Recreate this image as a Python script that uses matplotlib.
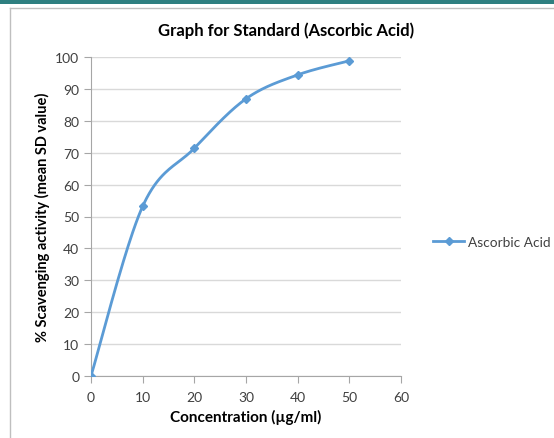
import numpy as np
import matplotlib
matplotlib.use("Agg")
import matplotlib.pyplot as plt
from matplotlib.patches import Rectangle
from matplotlib.lines import Line2D

plt.rcParams['font.family'] = ['Lato', 'DejaVu Sans']

concentration = [0, 10, 20, 30, 40, 50]
scavenging = [0, 53.2, 71.4, 86.9, 94.4, 98.8]
x_ticks = [0, 10, 20, 30, 40, 50, 60]
y_ticks = [0, 10, 20, 30, 40, 50, 60, 70, 80, 90, 100]
series_name = "Ascorbic Acid"
title = "Graph for Standard (Ascorbic Acid)"
xlabel = "Concentration (µg/ml)"
ylabel = "% Scavenging activity (mean SD value)"

line_color = "#5b9bd5"
grid_color = "#d9d9d9"
text_color = "#404040"

def smooth_curve(xs, ys, n=40):
    # Excel-style cubic Bezier smoothing through the data points
    P = np.column_stack([xs, ys]).astype(float)
    out = []
    for i in range(len(P) - 1):
        p0 = P[i - 1] if i > 0 else P[i]
        p1 = P[i]
        p2 = P[i + 1]
        p3 = P[i + 2] if i + 2 < len(P) else P[i + 1]
        c1 = p1 + (p2 - p0) / 6.0
        c2 = p2 - (p3 - p1) / 6.0
        t = np.linspace(0, 1, n)[:, None]
        seg = ((1 - t) ** 3) * p1 + 3 * ((1 - t) ** 2) * t * c1 + 3 * (1 - t) * t ** 2 * c2 + t ** 3 * p2
        out.append(seg if i == 0 else seg[1:])
    seg = np.vstack(out)
    return seg[:, 0], seg[:, 1]

fig = plt.figure(figsize=(5.54, 4.39), dpi=100)

# slide decoration: teal bar on top and chart frame
fig.patches.append(Rectangle((0.0, 1 - 5 / 439), 1.0, 5 / 439, transform=fig.transFigure,
                             facecolor="#2e7f80", edgecolor="none"))
fig.add_artist(Line2D([10 / 554, 10 / 554], [0, 1 - 9 / 439], transform=fig.transFigure,
                      color="#bfbfbf", lw=1.0))
fig.add_artist(Line2D([10 / 554, 1], [1 - 9 / 439, 1 - 9 / 439], transform=fig.transFigure,
                      color="#bfbfbf", lw=1.0))

ax = fig.add_axes([91 / 554, 1 - 377 / 439, 310 / 554, 319 / 439])

sx, sy = smooth_curve(concentration, scavenging)
ax.plot(sx, sy, color=line_color, lw=2.0, zorder=3)
ax.plot(concentration, scavenging, linestyle="none", marker="D", markersize=4.5,
        color=line_color, zorder=4)

ax.set_xlim(0, 60)
ax.set_ylim(0, 100)
ax.set_xticks(x_ticks)
ax.set_yticks(y_ticks)
ax.grid(axis="y", color=grid_color, lw=1.0)
ax.set_axisbelow(True)
for s in ["top", "right"]:
    ax.spines[s].set_visible(False)
for s in ["left", "bottom"]:
    ax.spines[s].set_color("#a6a6a6")
ax.tick_params(axis="both", colors="#a6a6a6", labelcolor=text_color, labelsize=10,
               length=5, direction="out")
ax.tick_params(axis="x", pad=6)

ax.set_xlabel(xlabel, fontsize=11, fontweight="bold", color="black", labelpad=4)
ax.set_ylabel(ylabel, fontsize=10.5, fontweight="bold", color="black", labelpad=4)
fig.text(286 / 554, 1 - 31 / 439, title, ha="center", va="center", fontsize=12,
         fontweight="bold", color="black")

handle = Line2D([], [], color=line_color, lw=2.0, marker="D", markersize=4.5)
fig.legend([handle], [series_name], loc="center left", bbox_to_anchor=(429 / 554, 1 - 243 / 439),
           frameon=False, fontsize=9.8, handlelength=2.3, handletextpad=0.3, labelcolor=text_color,
           borderaxespad=0, borderpad=0.3)

fig.savefig("out.png", dpi=100)
